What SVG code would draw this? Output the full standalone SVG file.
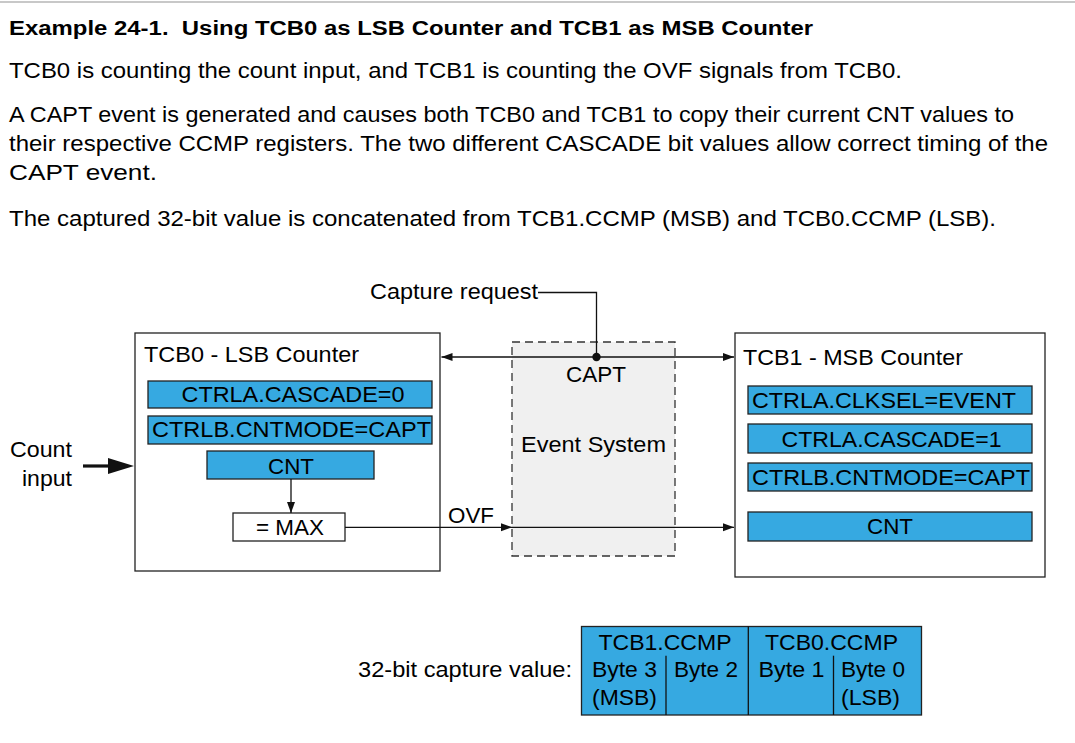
<svg xmlns="http://www.w3.org/2000/svg" width="1075" height="743" viewBox="0 0 1075 743">
<style>
text{font-family:"Liberation Sans",Arial,sans-serif;font-size:22.5px;fill:#000}
.title{font-weight:bold;font-size:20px}
.box{fill:#fff;stroke:#222;stroke-width:1.3}
.reg{fill:#36a9e1;stroke:#222;stroke-width:1.3}
.mid{text-anchor:middle}
.end{text-anchor:end}
.ln{fill:none;stroke:#111;stroke-width:1.3}
</style>
<defs>
<marker id="ah" markerWidth="12" markerHeight="10" refX="11" refY="4" orient="auto" markerUnits="userSpaceOnUse">
<path d="M0,0 L11,4 L0,8 Z" fill="#111"/>
</marker>
<marker id="ahs" markerWidth="12" markerHeight="10" refX="11" refY="4" orient="auto-start-reverse" markerUnits="userSpaceOnUse">
<path d="M0,0 L11,4 L0,8 Z" fill="#111"/>
</marker>
</defs>
<rect x="0" y="0" width="1075" height="743" fill="#fff"/>
<line x1="0" y1="2" x2="1075" y2="2" stroke="#c8c8c8" stroke-width="2"/>
<g id="text-block">
<text class="title" x="9" y="35" textLength="804" lengthAdjust="spacingAndGlyphs">Example 24-1.&#160; Using TCB0 as LSB Counter and TCB1 as MSB Counter</text>
<text x="9" y="78" textLength="893" lengthAdjust="spacingAndGlyphs">TCB0 is counting the count input, and TCB1 is counting the OVF signals from TCB0.</text>
<text x="9" y="122" textLength="1005" lengthAdjust="spacingAndGlyphs">A CAPT event is generated and causes both TCB0 and TCB1 to copy their current CNT values to</text>
<text x="9" y="151" textLength="1039" lengthAdjust="spacingAndGlyphs">their respective CCMP registers. The two different CASCADE bit values allow correct timing of the</text>
<text x="9" y="180" textLength="148" lengthAdjust="spacingAndGlyphs">CAPT event.</text>
<text x="9" y="226" textLength="987" lengthAdjust="spacingAndGlyphs">The captured 32-bit value is concatenated from TCB1.CCMP (MSB) and TCB0.CCMP (LSB).</text>
</g>
<g id="event-system">
<rect x="512" y="342" width="163" height="214" fill="#f0f0f0" stroke="#333" stroke-width="1.3" stroke-dasharray="8,5"/>
<text class="mid" x="596" y="382" textLength="60" lengthAdjust="spacingAndGlyphs">CAPT</text>
<text class="mid" x="593.5" y="452" textLength="145" lengthAdjust="spacingAndGlyphs">Event System</text>
</g>
<g id="tcb0">
<rect class="box" x="135" y="333" width="305" height="238"/>
<text x="144" y="362" textLength="215" lengthAdjust="spacingAndGlyphs">TCB0 - LSB Counter</text>
<rect class="reg" x="148" y="381" width="284" height="27"/>
<text class="mid" x="293" y="402" textLength="223" lengthAdjust="spacingAndGlyphs">CTRLA.CASCADE=0</text>
<rect class="reg" x="148" y="416" width="284" height="28"/>
<text class="mid" x="291.5" y="437" textLength="279" lengthAdjust="spacingAndGlyphs">CTRLB.CNTMODE=CAPT</text>
<rect class="reg" x="207" y="451" width="167" height="28"/>
<text class="mid" x="291" y="473.5" textLength="46" lengthAdjust="spacingAndGlyphs">CNT</text>
<rect class="box" x="233" y="513" width="112" height="28"/>
<text class="mid" x="290" y="534.5" textLength="68" lengthAdjust="spacingAndGlyphs">= MAX</text>
</g>
<g id="tcb1">
<rect class="box" x="735" y="333" width="310" height="244"/>
<text x="743" y="365" textLength="220" lengthAdjust="spacingAndGlyphs">TCB1 - MSB Counter</text>
<rect class="reg" x="748" y="386" width="284" height="28"/>
<text class="mid" x="884" y="408" textLength="264" lengthAdjust="spacingAndGlyphs">CTRLA.CLKSEL=EVENT</text>
<rect class="reg" x="748" y="424" width="284" height="29"/>
<text class="mid" x="891.5" y="446.5" textLength="220" lengthAdjust="spacingAndGlyphs">CTRLA.CASCADE=1</text>
<rect class="reg" x="748" y="463" width="284" height="28"/>
<text class="mid" x="891" y="484.5" textLength="278" lengthAdjust="spacingAndGlyphs">CTRLB.CNTMODE=CAPT</text>
<rect class="reg" x="748" y="512" width="284" height="29"/>
<text class="mid" x="890" y="533.5" textLength="46" lengthAdjust="spacingAndGlyphs">CNT</text>
</g>
<g id="count-input">
<text class="end" x="72" y="457" textLength="62" lengthAdjust="spacingAndGlyphs">Count</text>
<text class="end" x="72" y="486" textLength="50" lengthAdjust="spacingAndGlyphs">input</text>
</g>
<g id="capture-request">
<text x="370" y="299" textLength="168" lengthAdjust="spacingAndGlyphs">Capture request</text>
</g>
<g id="connectors">
<line x1="83" y1="466" x2="112" y2="466" stroke="#111" stroke-width="3.2"/>
<path d="M108,458 L134,466 L108,474 Z" fill="#111"/>
<polyline class="ln" points="538,292.5 596.5,292.5 596.5,357"/>
<line class="ln" x1="441.5" y1="357" x2="734" y2="357" marker-start="url(#ahs)" marker-end="url(#ah)"/>
<circle cx="596.5" cy="357" r="4.2" fill="#111"/>
<line class="ln" x1="291" y1="479" x2="291" y2="513" marker-end="url(#ah)"/>
<line class="ln" x1="345" y1="527.3" x2="512" y2="527.3" marker-end="url(#ah)"/>
<line class="ln" x1="512" y1="527.3" x2="734" y2="527.3" marker-end="url(#ah)"/>
<text x="448" y="523" textLength="46" lengthAdjust="spacingAndGlyphs">OVF</text>
</g>
<g id="capture-value">
<text class="end" x="572" y="677" textLength="214" lengthAdjust="spacingAndGlyphs">32-bit capture value:</text>
<rect class="reg" x="581.5" y="626.5" width="340" height="88.5"/>
<line class="ln" x1="748.3" y1="626.5" x2="748.3" y2="715"/>
<line class="ln" x1="666" y1="655.7" x2="666" y2="715"/>
<line class="ln" x1="833.5" y1="655.7" x2="833.5" y2="715"/>
<text class="mid" x="665" y="650" textLength="133" lengthAdjust="spacingAndGlyphs">TCB1.CCMP</text>
<text class="mid" x="831.5" y="650" textLength="133" lengthAdjust="spacingAndGlyphs">TCB0.CCMP</text>
<text x="592" y="677" textLength="65" lengthAdjust="spacingAndGlyphs">Byte 3</text>
<text x="674" y="677" textLength="64" lengthAdjust="spacingAndGlyphs">Byte 2</text>
<text x="758.5" y="677" textLength="66" lengthAdjust="spacingAndGlyphs">Byte 1</text>
<text x="841" y="677" textLength="64" lengthAdjust="spacingAndGlyphs">Byte 0</text>
<text x="592" y="704.5" textLength="65" lengthAdjust="spacingAndGlyphs">(MSB)</text>
<text x="841" y="704.5" textLength="59" lengthAdjust="spacingAndGlyphs">(LSB)</text>
</g>
</svg>
